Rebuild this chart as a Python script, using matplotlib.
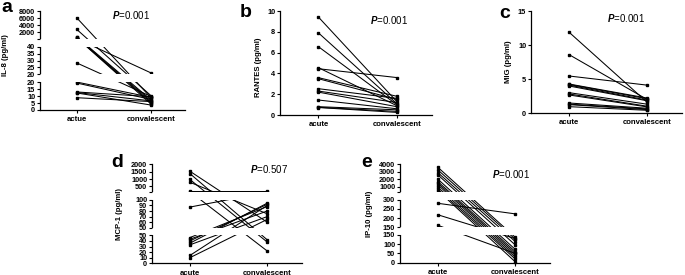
import numpy as np
import matplotlib
matplotlib.use('Agg')
import matplotlib.pyplot as plt
from matplotlib.patches import Rectangle

plt.rcParams['font.family'] = ['Liberation Sans', 'DejaVu Sans']
plt.rcParams['font.weight'] = 'bold'
plt.rcParams['mathtext.fontset'] = 'custom'
plt.rcParams['mathtext.it'] = 'Liberation Sans:italic'
plt.rcParams['mathtext.rm'] = 'Liberation Sans'

# data, paired acute / convalescent values
il8_acute = [6100, 2800, 700, 550, 450, 400, 150, 28.3, 20.0, 19.3, 12.9, 12.5, 12.2, 8.8]
il8_conv = [8.5, 10.0, 7.0, 6.0, 5.0, 4.0, 21.0, 9.6, 9.0, 7.5, 9.5, 6.5, 3.5, 6.0]

rantes_acute = [9.42, 7.9, 6.57, 4.55, 4.45, 3.59, 3.49, 2.53, 2.3, 2.2, 1.44, 0.8, 0.74, 0.72]
rantes_conv = [1.3, 1.1, 1.0, 0.9, 3.6, 1.8, 1.5, 1.6, 1.2, 0.8, 0.6, 0.5, 0.35, 0.25]

mig_acute = [11.87, 8.58, 5.44, 4.26, 4.2, 4.1, 3.97, 2.99, 2.8, 2.65, 1.47, 1.3, 1.23, 0.93]
mig_conv = [1.6, 2.0, 4.1, 2.2, 2.1, 1.9, 1.8, 1.3, 1.0, 0.9, 0.7, 0.6, 0.5, 0.4]

mcp1_acute = [1530, 1370, 970, 780, 200, 150, 87, 46, 43, 40, 36, 33, 14, 10]
mcp1_conv = [60, 42, 38, 75, 200, 22, 105, 88, 80, 92, 94, 70, 90, 65]

ip10_acute = [3600, 3250, 2890, 2590, 2020, 1700, 1490, 1260, 960, 700, 500, 280, 218, 161]
ip10_conv = [137, 127, 114, 96, 72, 60, 50, 40, 30, 20, 5, 223, 130, 50]

# broken axis segments (bottom -> top) and tick values per segment
il8_segs = [(0, 20), (20, 40), (40, 8000)]
il8_ticks = [[0, 5, 10, 15, 20], [20, 25, 30, 35, 40], [40, 2000, 4000, 6000, 8000]]
mcp1_segs = [(0, 50), (50, 100), (100, 2000)]
mcp1_ticks = [[0, 10, 20, 30, 40, 50], [50, 60, 70, 80, 90, 100], [100, 500, 1000, 1500, 2000]]
ip10_segs = [(0, 150), (150, 300), (300, 4000)]
ip10_ticks = [[0, 50, 100, 150], [150, 200, 250, 300], [300, 1000, 2000, 3000, 4000]]

GAP = 0.27
EPS = 1e-9


def seg_funcs(segs):
    xp, fp = [], []
    for i, (lo, hi) in enumerate(segs):
        base = i * (1 + GAP)
        xp += [lo if i == 0 else lo * (1 + EPS), hi]
        fp += [base, base + 1]
    xp = np.array(xp, float)
    fp = np.array(fp, float)
    return (lambda v: np.interp(v, xp, fp)), (lambda s: np.interp(s, fp, xp))


def draw_panel(rect, acute, conv, xlabels, ylabel, ylab_pos, lin_ticks=None,
               segs=None, seg_ticks=None):
    ax = fig.add_axes(rect)
    for a, c in zip(acute, conv):
        ax.plot([0, 1], [a, c], '-s', color='black', lw=0.75, ms=2.0,
                clip_on=False, zorder=2)
    ax.set_xlim(-0.49, 1.45)
    if segs is None:
        ax.set_ylim(lin_ticks[0], lin_ticks[-1])
        ax.set_yticks(lin_ticks, [str(t) for t in lin_ticks])
    else:
        fwd, inv = seg_funcs(segs)
        ax.set_yscale('function', functions=(fwd, inv))
        ax.set_ylim(segs[0][0], segs[-1][1])
        locs, labs = [], []
        for i, ticks in enumerate(seg_ticks):
            for j, t in enumerate(ticks):
                if j == 0 and i > 0:
                    locs.append(t * (1 + EPS))
                    labs.append('' if i == len(segs) - 1 else str(t))
                else:
                    locs.append(t)
                    labs.append(str(t))
        ax.set_yticks(locs, labs)
        # white bands hide the lines and the spine inside the breaks
        total = len(segs) + (len(segs) - 1) * GAP
        for i in range(1, len(segs)):
            y0 = ((i - 1) * (1 + GAP) + 1) / total
            ax.add_patch(Rectangle((-0.012, y0), 1.012, GAP / total,
                                   transform=ax.transAxes, facecolor='white',
                                   edgecolor='none', zorder=2.7, clip_on=False))
        ax.yaxis.set_zorder(3)
    ax.set_xticks([0, 1], xlabels)
    for s in ['top', 'right']:
        ax.spines[s].set_visible(False)
    for s in ['left', 'bottom']:
        ax.spines[s].set_linewidth(0.9)
    ax.tick_params(axis='y', labelsize=5.3, length=2.5, width=0.8, pad=1)
    ax.tick_params(axis='x', labelsize=5.6, length=2.5, width=0.8, pad=2)
    ax.set_ylabel(ylabel, fontsize=5.6, fontweight='bold')
    ax.yaxis.set_label_coords(*ylab_pos)
    return ax


W, H = 685, 275
fig = plt.figure(figsize=(6.85, 2.75), dpi=100)


def frect(left, right, top, bottom):
    return [left / W, 1 - bottom / H, (right - left) / W, (bottom - top) / H]


draw_panel(frect(40, 185, 11, 110), il8_acute, il8_conv, ['actue', 'convalescent'],
           'IL-8 (pg/ml)', (-0.215, 0.55), segs=il8_segs, seg_ticks=il8_ticks)
draw_panel(frect(280, 432, 11, 115), rantes_acute, rantes_conv, ['acute', 'convalescent'],
           'RANTES (pg/ml)', (-0.12, 0.46), lin_ticks=[0, 2, 4, 6, 8, 10])
draw_panel(frect(531, 682, 11, 113), mig_acute, mig_conv, ['acute', 'convalescent'],
           'MIG (pg/ml)', (-0.125, 0.5), lin_ticks=[0, 5, 10, 15])
draw_panel(frect(152, 302, 164.3, 263.3), mcp1_acute, mcp1_conv, ['acute', 'convalescent'],
           'MCP-1 (pg/ml)', (-0.195, 0.5), segs=mcp1_segs, seg_ticks=mcp1_ticks)
draw_panel(frect(400, 550, 164.3, 262.7), ip10_acute, ip10_conv, ['acute', 'convalescent'],
           'IP-10 (pg/ml)', (-0.18, 0.5), segs=ip10_segs, seg_ticks=ip10_ticks)

# panel letters and p values
letters = [('a', 1, 11.7), ('b', 240, 16.7), ('c', 499, 18.3), ('d', 111, 166.7), ('e', 361, 166.7)]
for t, x, y in letters:
    fig.text(x / W, 1 - y / H, t, fontsize=14, fontweight='bold', va='baseline')

pvals = [('0.001', 112, 19.3), ('0.001', 370, 24), ('0.001', 607, 21.7),
         ('0.507', 250, 173.3), ('0.001', 492, 177.7)]
for p, x, y in pvals:
    fig.text(x / W, 1 - y / H, r'$\mathit{P}$=' + p, fontsize=7,
             fontweight='normal', va='baseline')

fig.savefig('out.png', dpi=100)
